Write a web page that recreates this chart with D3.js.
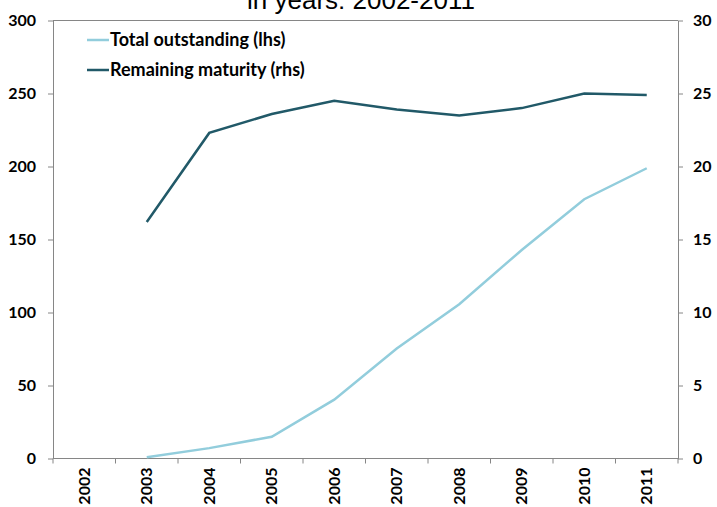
<!DOCTYPE html>
<html>
<head>
<meta charset="utf-8">
<script src="https://cdn.jsdelivr.net/npm/d3@7"></script>
<style>
  body { margin: 0; background: #fff; }
  svg { display: block; }
  .axis text { font-family: Lato, "Open Sans", sans-serif; font-weight: 700; font-size: 16px; fill: #000; }
  .axis path, .axis line { stroke: #868686; }
</style>
</head>
<body>
<div id="chart"></div>
<script>
// Daten
const years = ["2002", "2003", "2004", "2005", "2006", "2007", "2008", "2009", "2010", "2011"];
const totalOutstanding = [null, 0.9, 7.1, 14.9, 40.3, 75.3, 105.7, 142.8, 177.6, 198.8];
const remainingMaturity = [null, 16.2, 22.3, 23.6, 24.5, 23.9, 23.5, 24.0, 25.0, 24.9];
const leftTicks = [0, 50, 100, 150, 200, 250, 300];
const rightTicks = [0, 5, 10, 15, 20, 25, 30];
const seriesNames = ["Total outstanding (lhs)", "Remaining maturity (rhs)"];

const W = 717, H = 507;
const m = { top: 20.5, right: 39, bottom: 48.5, left: 53 };
const innerW = W - m.left - m.right, innerH = H - m.top - m.bottom;

const svg = d3.select("#chart").append("svg").attr("width", W).attr("height", H);

// Titel (oben abgeschnitten wie im Original)
svg.append("text")
  .attr("x", 361).attr("y", 9)
  .attr("text-anchor", "middle")
  .style("font-family", "Arial, 'Liberation Sans', sans-serif")
  .style("font-size", "26px")
  .text("in years: 2002-2011");

const g = svg.append("g").attr("transform", `translate(${m.left},${m.top})`);

const x = d3.scaleBand().domain(years).range([0, innerW]);
const yL = d3.scaleLinear().domain([0, 300]).range([innerH, 0]);
const yR = d3.scaleLinear().domain([0, 30]).range([innerH, 0]);

// Rahmen oben
g.append("line")
  .attr("x1", 0).attr("x2", innerW).attr("y1", 0).attr("y2", 0)
  .attr("stroke", "#868686");

// Achsen
g.append("g").attr("class", "axis")
  .call(d3.axisLeft(yL).tickValues(leftTicks).tickSize(5).tickPadding(12).tickSizeOuter(0));

g.append("g").attr("class", "axis")
  .attr("transform", `translate(${innerW},0)`)
  .call(d3.axisRight(yR).tickValues(rightTicks).tickSize(5).tickPadding(10).tickSizeOuter(0));

// x-Achse mit Ticks an den Bandgrenzen
const xAxis = g.append("g").attr("class", "axis").attr("transform", `translate(0,${innerH})`);
xAxis.append("line").attr("x1", 0).attr("x2", innerW).attr("stroke", "#868686");
const bounds = years.map(d => x(d)).concat([innerW]);
xAxis.selectAll("line.tk").data(bounds).join("line")
  .attr("class", "tk")
  .attr("x1", d => d).attr("x2", d => d).attr("y1", 0).attr("y2", 5)
  .attr("stroke", "#868686");
xAxis.selectAll("text").data(years).join("text")
  .attr("transform", d => `translate(${x(d) + x.bandwidth() / 2},9) rotate(-90)`)
  .attr("text-anchor", "end")
  .attr("dy", "0.35em")
  .text(d => d);

// Linien
const colors = ["#92CDDC", "#215968"];

const lineL = d3.line()
  .defined(d => d.v != null)
  .x(d => x(d.year) + x.bandwidth() / 2)
  .y(d => yL(d.v));
const lineR = d3.line()
  .defined(d => d.v != null)
  .x(d => x(d.year) + x.bandwidth() / 2)
  .y(d => yR(d.v));

g.append("path")
  .datum(years.map((year, i) => ({ year, v: totalOutstanding[i] })))
  .attr("fill", "none").attr("stroke", colors[0]).attr("stroke-width", 2.5)
  .attr("d", lineL);

g.append("path")
  .datum(years.map((year, i) => ({ year, v: remainingMaturity[i] })))
  .attr("fill", "none").attr("stroke", colors[1]).attr("stroke-width", 2.5)
  .attr("d", lineR);

// Legende
const legend = svg.append("g").attr("transform", "translate(87,40)");
seriesNames.forEach((name, i) => {
  const row = legend.append("g").attr("transform", `translate(0,${i * 30})`);
  row.append("line").attr("x1", 0).attr("x2", 22).attr("stroke", colors[i]).attr("stroke-width", 2.5);
  row.append("text")
    .attr("x", 23).attr("dy", "0.35em")
    .style("font-family", "Lato, 'Open Sans', sans-serif")
    .style("font-weight", "700")
    .style("font-size", "18px")
    .text(name);
});
</script>
</body>
</html>
